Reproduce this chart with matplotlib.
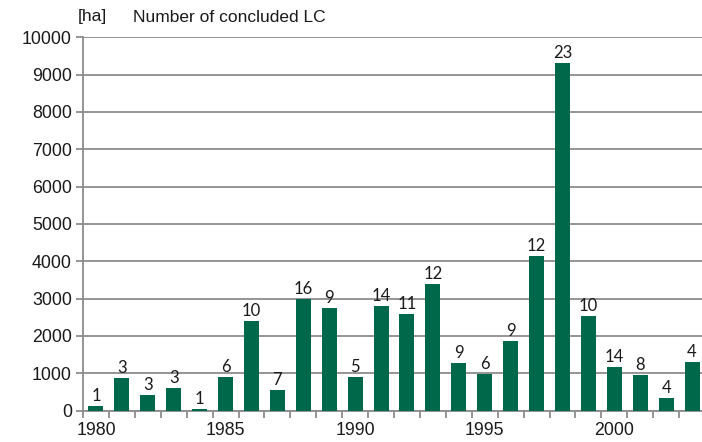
import matplotlib
matplotlib.use("Agg")
import matplotlib.pyplot as plt
from matplotlib.ticker import MultipleLocator, FixedLocator

years = list(range(1980, 2004))
area_ha = [130, 860, 420, 610, 40, 900, 2400, 550, 2980, 2750, 900, 2800,
           2580, 3390, 1280, 980, 1870, 4150, 9300, 2540, 1160, 950, 340, 1300]
counts = [1, 3, 3, 3, 1, 6, 10, 7, 16, 9, 5, 14,
          11, 12, 9, 6, 9, 12, 23, 10, 14, 8, 4, 4]
shown_years = [1980, 1985, 1990, 1995, 2000]

bar_color = "#00684A"
grid_color = "#8C8C8C"
text_color = "#1A1A1A"

fig = plt.figure(figsize=(7.02, 4.42), dpi=100)
ax = fig.add_axes([83/702, 1 - 410.5/442, 622/702, (410.5 - 37.3)/442])

x = list(range(len(years)))
ax.bar(x, area_ha, width=0.58, color=bar_color, zorder=3)

for xi, v, c in zip(x, area_ha, counts):
    ax.annotate(str(c), (xi, v), xytext=(0, 1.5), textcoords="offset points",
                ha="center", va="bottom", fontsize=12, family="Lato",
                color=text_color)

ax.set_xlim(-0.5, len(years) - 0.5)
ax.set_ylim(0, 10000)
ax.yaxis.set_major_locator(MultipleLocator(1000))
ax.grid(axis="y", color=grid_color, linewidth=1.3, zorder=0)

major_pos = [years.index(y) for y in shown_years]
ax.xaxis.set_major_locator(FixedLocator(major_pos))
ax.set_xticklabels([str(y) for y in shown_years])
ax.xaxis.set_minor_locator(FixedLocator([i - 0.5 for i in range(len(years) + 1)]))
ax.tick_params(axis="x", which="major", length=0, pad=8)
ax.tick_params(axis="x", which="minor", length=5, width=1.3, color=grid_color)
ax.tick_params(axis="y", length=5, width=1.3, color=grid_color, pad=3)

for lab in ax.get_xticklabels() + ax.get_yticklabels():
    lab.set_fontfamily("Liberation Sans")
    lab.set_fontsize(12.8)
    lab.set_color(text_color)

for s in ["top", "right"]:
    ax.spines[s].set_visible(False)
for s in ["left", "bottom"]:
    ax.spines[s].set_color(grid_color)
    ax.spines[s].set_linewidth(1.3)

fig.text(78/702, 1 - 17/442, "[ha]", ha="left", va="center",
         fontsize=12.5, family="Liberation Sans", color=text_color)
fig.text(133/702, 1 - 17/442, "Number of concluded LC", ha="left", va="center",
         fontsize=12.5, family="Liberation Sans", color=text_color)

fig.savefig("out.png", dpi=100)
